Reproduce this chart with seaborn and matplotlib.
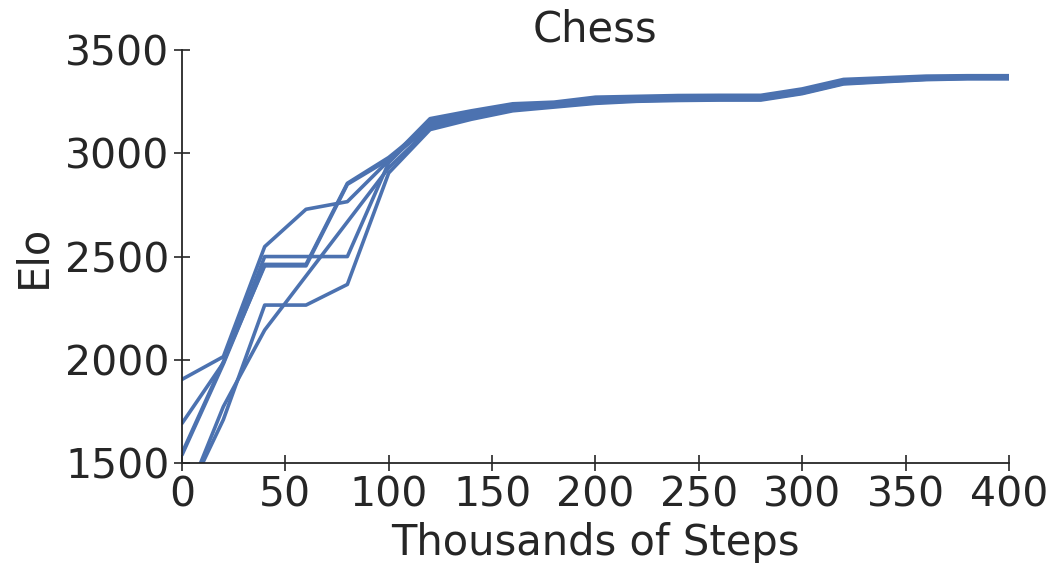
import numpy as np
import pandas as pd
import matplotlib
matplotlib.use("Agg")
import matplotlib.pyplot as plt
import seaborn as sns

# Training checkpoints (thousands of steps)
steps = [0, 20, 40, 60, 80, 100, 120, 140, 160, 180, 200,
         220, 240, 260, 280, 300, 320, 340, 360, 380, 400]

# Elo of each independent training run at every checkpoint
run_1 = [1905, 2015, 2548, 2729, 2766, 2965, 3168, 3206, 3240, 3248, 3272,
         3276, 3280, 3281, 3281, 3312, 3358, 3366, 3374, 3376, 3376]
run_2 = [1692, 1985, 2500, 2500, 2500, 2955, 3155, 3196, 3234, 3242, 3265,
         3270, 3274, 3276, 3276, 3306, 3352, 3360, 3369, 3372, 3372]
run_3 = [1539, 1980, 2462, 2462, 2855, 2980, 3142, 3186, 3226, 3236, 3257,
         3264, 3268, 3270, 3270, 3300, 3347, 3356, 3365, 3368, 3368]
run_4 = [1548, 1990, 2455, 2455, 2850, 2970, 3130, 3176, 3216, 3230, 3250,
         3258, 3262, 3264, 3265, 3295, 3342, 3351, 3361, 3365, 3365]
run_5 = [1290, 1710, 2265, 2265, 2365, 2905, 3115, 3165, 3206, 3224, 3242,
         3252, 3256, 3258, 3258, 3289, 3336, 3347, 3357, 3361, 3361]
run_6 = [1277, 1773, 2144, 2406, 2668, 2930, 3122, 3170, 3212, 3228, 3246,
         3255, 3259, 3261, 3262, 3292, 3339, 3349, 3359, 3363, 3363]

runs = {"1": run_1, "2": run_2, "3": run_3, "4": run_4, "5": run_5, "6": run_6}

df = pd.concat(
    [pd.DataFrame({"step": steps, "elo": vals, "run": name}) for name, vals in runs.items()],
    ignore_index=True,
)

sns.set_theme(style="ticks")
plt.rcParams["font.family"] = ["DejaVu Sans"]

fig = plt.figure(figsize=(10.52, 5.63), dpi=100)
ax = fig.add_axes([0.173, 0.1776, 0.786, 0.7334])

sns.lineplot(data=df, x="step", y="elo", units="run", estimator=None,
             color="#4C72B0", linewidth=2.6, ax=ax, legend=False)

ax.set_xlim(0, 400)
ax.set_ylim(1500, 3500)
ax.set_xticks([0, 50, 100, 150, 200, 250, 300, 350, 400])
ax.set_yticks([1500, 2000, 2500, 3000, 3500])
ax.tick_params(axis="both", labelsize=29.5, direction="inout", length=12,
               width=1.2, colors="#262626", pad=3)
for s in ("left", "bottom"):
    ax.spines[s].set_linewidth(1.3)
    ax.spines[s].set_color("#262626")
sns.despine(ax=ax)

ax.set_xlabel("Thousands of Steps", fontsize=30, color="#262626", labelpad=5)
ax.set_ylabel("Elo", fontsize=30, color="#262626", labelpad=8)
ax.set_title("Chess", fontsize=30, color="#262626", pad=3)

fig.savefig("out.png", dpi=100)
